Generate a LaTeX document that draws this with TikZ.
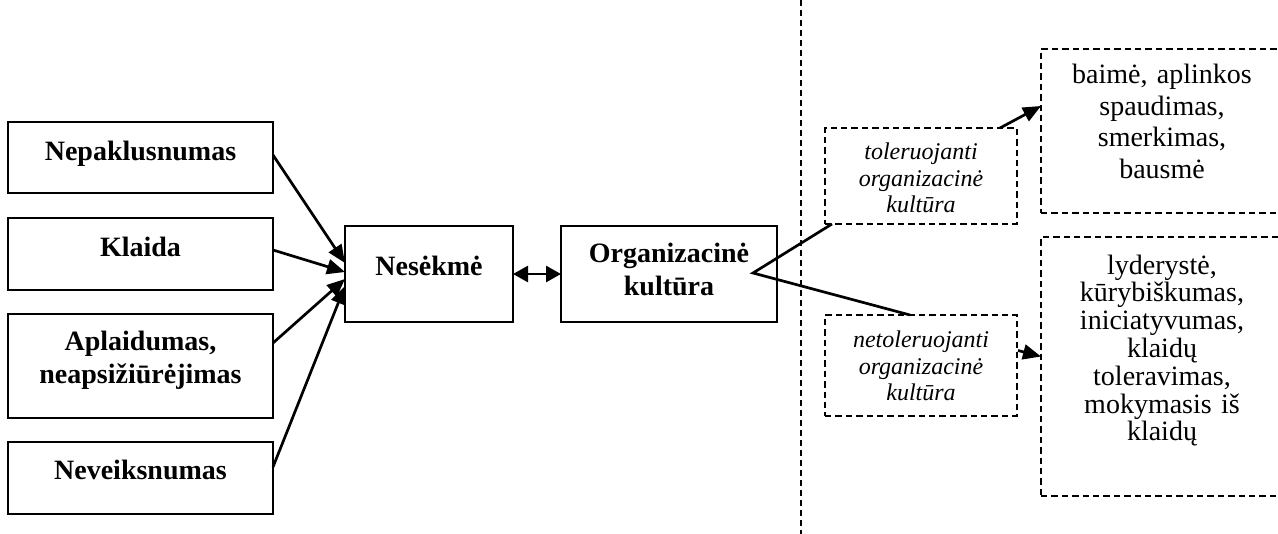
\documentclass[tikz,border=0pt]{standalone}
\usepackage{fontspec}
\setmainfont{Liberation Serif}
\usetikzlibrary{arrows.meta,calc}
\begin{document}
\begin{tikzpicture}[x=0.5pt,y=-0.5pt,
  solidbox/.style={draw,line width=1pt,inner sep=0pt,outer sep=0pt},
  dashbox/.style={draw,line width=0.7pt,dash pattern=on 3.2pt off 2pt,inner sep=0pt,outer sep=0pt},
  sz/.style 2 args={minimum width=#1*0.5pt,minimum height=#2*0.5pt},
  boldtxt/.style={anchor=base,align=center,text width=135pt,inner sep=0pt,
    font=\fontsize{14}{16.3}\selectfont\bfseries},
  itxt/.style={anchor=base,align=center,text width=85pt,inner sep=0pt,
    font=\fontsize{12}{13.4}\selectfont\itshape},
  plaintxt/.style={anchor=base,align=center,text width=120pt,inner sep=0pt,
    font=\fontsize{14}{#1}\selectfont},
  link/.style={line width=1.35pt},
  arr/.style={link,-{Triangle[length=9pt,width=7.5pt]}},
  twoway/.style={link,{Triangle[length=7.5pt,width=8pt]}-{Triangle[length=7.5pt,width=8pt]}},
  divider/.style={line width=0.7pt,dash pattern=on 3.2pt off 1.8pt}
]
\useasboundingbox (0,0) rectangle (1278,534);

% left column: kinds of failure
\node[solidbox,sz={265}{71}]  (n1) at (140.5,157.5) {};
\node[solidbox,sz={265}{72}]  (n2) at (140.5,254) {};
\node[solidbox,sz={265}{104}] (n3) at (140.5,366) {};
\node[solidbox,sz={265}{72}]  (n4) at (140.5,478) {};
\node[boldtxt] (t1) at (140.5,160.7) {Nepaklusnumas};
\node[boldtxt] (t2) at (140.5,256.7) {Klaida};
\node[boldtxt] (t3) at (140.5,350.7) {Aplaidumas,\\neapsižiūrėjimas};
\node[boldtxt] (t4) at (140.5,479) {Neveiksnumas};

% centre: failure and organisational culture
\node[solidbox,sz={168}{96}] (nes) at (429,274) {};
\node[solidbox,sz={216}{96}] (org) at (669,274) {};
\node[boldtxt] (tnes) at (429,275.7) {Nesėkmė};
\node[boldtxt] (torg) at (669,262.7) {Organizacinė\\kultūra};

% divider
\coordinate (vtop) at (801,0);
\coordinate (vbot) at (801,534);
\draw[divider] (vtop) -- (vbot);

% right: two culture types and their outcomes
\node[dashbox,sz={192}{96}]  (tol) at (921,176) {};
\node[dashbox,sz={192}{101}] (net) at (921,365.5) {};
\node[itxt] (ttol) at (921,159.3) {toleruojanti\\organizacinė\\kultūra};
\node[itxt] (tnet) at (921,347.3) {netoleruojanti\\organizacinė\\kultūra};

\node[dashbox,sz={249}{164}] (bai) at (1165.5,131) {};
\node[dashbox,sz={249}{259}] (lyd) at (1165.5,366.5) {};
\node[plaintxt=15.9] (tbai) at (1162,83.3) {baimė, aplinkos\\spaudimas,\\smerkimas,\\bausmė};
\node[plaintxt=13.9] (tlyd) at (1162,274) {lyderystė,\\kūrybiškumas,\\iniciatyvumas,\\klaidų\\toleravimas,\\mokymasis iš\\klaidų};

% connectors
\draw[arr] ($(n1.east)+(0,-2.5)$) -- ($(nes.west)+(0,-11)$);
\draw[arr] ($(n2.east)+(0,-4)$) -- ($(nes.west)+(0,-2)$);
\draw[arr] ($(n3.east)+(0,-23)$) -- ($(nes.west)+(0,5)$);
\draw[arr] ($(n4.east)+(0,-11)$) -- ($(nes.west)+(0,12)$);
\draw[twoway] (nes.east) -- (org.west);

\coordinate (oc) at ($(org.east)+(-24,-1)$);
\draw[link] ($(tol.south west)+(7,0)$) -- (oc) -- ($(net.north)+(-11,0)$);

\draw[arr] ($(tol.north east)+(-17,0)$) -- ($(bai.west)+(0,-25)$);
\draw[arr] ($(net.east)+(1,-15)$) -- ($(lyd.west)+(0,-10)$);
\end{tikzpicture}
\end{document}
